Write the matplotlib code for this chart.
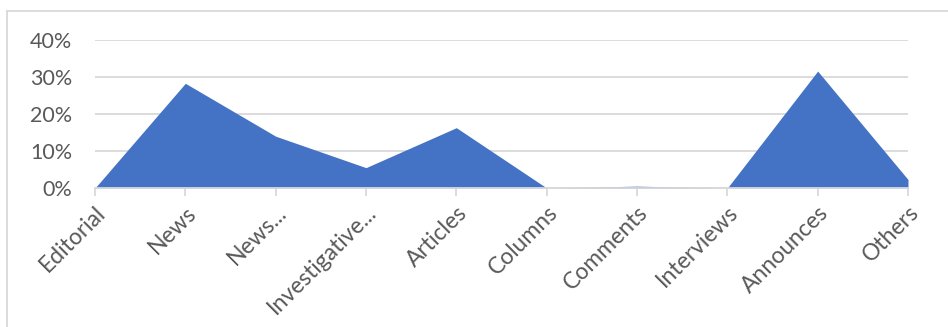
import matplotlib
matplotlib.use("Agg")
import matplotlib.pyplot as plt
from matplotlib.lines import Line2D
from matplotlib.ticker import FuncFormatter

plt.rcParams['font.family'] = ['Lato', 'DejaVu Sans']

categories = ['Editorial', 'News', 'News...', 'Investigative...', 'Articles',
              'Columns', 'Comments', 'Interviews', 'Announces', 'Others']
shares = [0.0, 28.3, 14.0, 5.5, 16.3, 0.0, 0.5, 0.0, 31.6, 2.3]
y_ticks = [0, 10, 20, 30, 40]

text_col = '#595959'
grid_col = '#d9d9d9'

fig = plt.figure(figsize=(9.48, 3.27), dpi=100)
ax = fig.add_axes([95 / 948, 139 / 327, 813 / 948, 148 / 327])

x = list(range(len(categories)))
ax.fill_between(x, shares, 0, color='#4472c4', linewidth=0, zorder=3)

ax.set_xlim(0, len(categories) - 1)
ax.set_ylim(0, 40)
ax.set_yticks(y_ticks)
ax.yaxis.set_major_formatter(FuncFormatter(lambda v, p: f'{v:.0f}%'))
ax.grid(axis='y', color=grid_col, linewidth=1.3, zorder=0)
ax.set_axisbelow(True)

for s in ['top', 'right', 'left']:
    ax.spines[s].set_visible(False)
ax.spines['bottom'].set_color(grid_col)
ax.spines['bottom'].set_linewidth(1.3)
ax.spines['bottom'].set_zorder(4)

ax.set_xticks(x)
ax.set_xticklabels(categories, rotation=45, ha='right', rotation_mode='anchor')
ax.tick_params(axis='x', length=6, width=1.3, colors=text_col,
               labelsize=16.5, pad=4)
ax.tick_params(axis='x', color=grid_col)
ax.tick_params(axis='y', length=0, colors=text_col, labelsize=15.5, pad=16.5)

# chart frame (top and left edge)
fig.add_artist(Line2D([7 / 948, 7 / 948], [0, 1 - 11 / 327], color=grid_col,
                      linewidth=1.3, transform=fig.transFigure))
fig.add_artist(Line2D([7 / 948, 1], [1 - 11 / 327, 1 - 11 / 327], color=grid_col,
                      linewidth=1.3, transform=fig.transFigure))

fig.savefig('out.png', dpi=100)
